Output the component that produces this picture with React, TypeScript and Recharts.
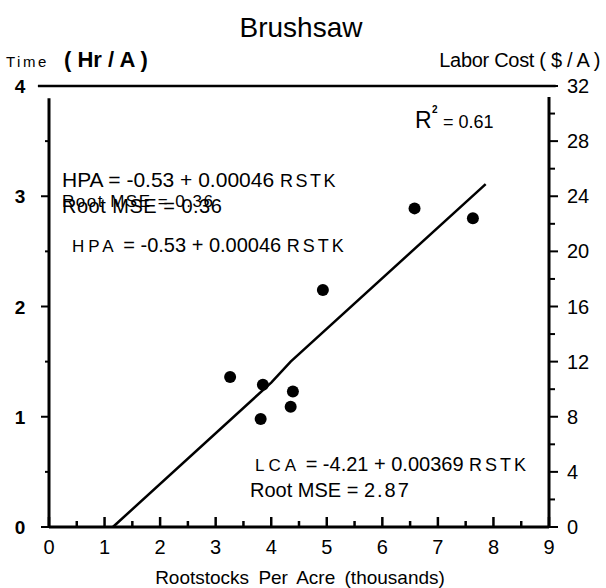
import {
	ComposedChart,
	Line,
	ReferenceLine,
	Scatter,
	XAxis,
	YAxis,
} from "recharts";

// observed stands (rootstocks in thousands per acre, hours per acre)
const rootstocks = [3.26, 3.85, 3.81, 4.39, 4.35, 4.93, 6.58, 7.63];
const hoursPerAcre = [1.36, 1.29, 0.98, 1.23, 1.09, 2.15, 2.89, 2.8];

// fitted line as drawn on the figure
const fitX = [1.15, 4.0, 4.35, 7.86];
const fitY = [0, 1.31, 1.5, 3.11];

// labor cost axis is hours x 8 $/hr
const costPerHour = 8;

const xTicks = [0, 0.5, 1, 1.5, 2, 2.5, 3, 3.5, 4, 4.5, 5, 5.5, 6, 6.5, 7, 7.5, 8, 8.5, 9];
const hourTicks = [0, 0.5, 1, 1.5, 2, 2.5, 3, 3.5, 4];
const costTicks = [0, 2, 4, 6, 8, 10, 12, 14, 16, 18, 20, 22, 24, 26, 28, 30, 32];

const points = rootstocks.map((x, i) => ({ x, y: hoursPerAcre[i] }));
const costPoints = rootstocks.map((x, i) => ({ x, cost: hoursPerAcre[i] * costPerHour }));
const fitLine = fitX.map((x, i) => ({ x, y: fitY[i] }));

const FONT = "'Liberation Sans', Arial, sans-serif";

function XTick({ x, y, payload }: any) {
	const major = Number.isInteger(payload.value);
	return (
		<g>
			<line x1={x} x2={x} y1={y} y2={y - (major ? 10 : 6)} stroke="#000" strokeWidth={2.5} />
			{major && (
				<text x={x} y={y + 27} textAnchor="middle" fontSize={20} fontFamily={FONT} fill="#000">
					{payload.value}
				</text>
			)}
		</g>
	);
}

function LeftTick({ x, y, payload }: any) {
	const major = Number.isInteger(payload.value);
	return (
		<g>
			<line x1={x - (major ? 8 : 4)} x2={x} y1={y} y2={y} stroke="#000" strokeWidth={2} />
			{major && (
				<text x={x - 29} y={y + 7} textAnchor="middle" fontSize={19} fontWeight="bold" fontFamily={FONT} fill="#000">
					{payload.value}
				</text>
			)}
		</g>
	);
}

function RightTick({ x, y, payload }: any) {
	const major = payload.value % 4 === 0;
	return (
		<g>
			<line x1={x} x2={x + (major ? 9 : 6)} y1={y} y2={y} stroke="#000" strokeWidth={2} />
			{major && (
				<text x={x + 18} y={y + 7} textAnchor="start" fontSize={20} fontFamily={FONT} fill="#000">
					{payload.value}
				</text>
			)}
		</g>
	);
}

function Dot({ cx, cy }: any) {
	return <circle cx={cx} cy={cy} r={6} fill="#000" />;
}

function NoDot() {
	return <g />;
}

export default function App() {
	return (
		<div style={{ position: "absolute", left: 0, top: 0, width: 606, height: 588, background: "#fff" }}>
			<ComposedChart
				width={606}
				height={588}
				margin={{ top: 86, right: 7, bottom: 30, left: 0 }}
			>
				<XAxis
					type="number"
					dataKey="x"
					domain={[0, 9]}
					ticks={xTicks}
					interval={0}
					tickSize={0}
					tickMargin={0}
					height={31}
					axisLine={{ stroke: "#000", strokeWidth: 3 }}
					tickLine={false}
					tick={<XTick />}
				/>
				<YAxis
					yAxisId="left"
					type="number"
					domain={[0, 4]}
					ticks={hourTicks}
					interval={0}
					tickSize={0}
					tickMargin={0}
					width={49}
					axisLine={false}
					tickLine={false}
					tick={<LeftTick />}
				/>
				<YAxis
					yAxisId="right"
					orientation="right"
					type="number"
					domain={[0, 32]}
					ticks={costTicks}
					interval={0}
					tickSize={0}
					tickMargin={0}
					width={50}
					axisLine={false}
					tickLine={false}
					tick={<RightTick />}
				/>
				{/* frame: top rule plus side axes that stop short of it */}
				<ReferenceLine
					yAxisId="left"
					segment={[
						{ x: -0.2, y: 4 },
						{ x: 9.12, y: 4 },
					]}
					ifOverflow="visible"
					stroke="#000"
					strokeWidth={2.5}
				/>
				<ReferenceLine
					yAxisId="left"
					segment={[
						{ x: 0, y: 0 },
						{ x: 0, y: 3.89 },
					]}
					ifOverflow="visible"
					stroke="#000"
					strokeWidth={3}
				/>
				<ReferenceLine
					yAxisId="left"
					segment={[
						{ x: 9, y: 0 },
						{ x: 9, y: 3.9 },
					]}
					ifOverflow="visible"
					stroke="#000"
					strokeWidth={3}
				/>
				<Line
					yAxisId="left"
					data={fitLine}
					dataKey="y"
					type="linear"
					stroke="#000"
					strokeWidth={2.5}
					dot={false}
					activeDot={false}
					isAnimationActive={false}
				/>
				{/* same stands in $/A, only to bind the cost axis */}
				<Scatter
					yAxisId="right"
					data={costPoints}
					dataKey="cost"
					shape={<NoDot />}
					isAnimationActive={false}
				/>
				<Scatter
					yAxisId="left"
					data={points}
					dataKey="y"
					fill="#000"
					shape={<Dot />}
					isAnimationActive={false}
				/>
			</ComposedChart>
			<svg
				width={606}
				height={588}
				style={{ position: "absolute", left: 0, top: 0, pointerEvents: "none" }}
				fontFamily={FONT}
			>
				<text x={301} y={37} textAnchor="middle" fontSize={28}>Brushsaw</text>
				<text x={6} y={67} fontSize={15} letterSpacing={2.5}>Time</text>
				<text x={64} y={67} fontSize={22} fontWeight="bold">( Hr / A )</text>
				<text x={600} y={67} textAnchor="end" fontSize={20} letterSpacing={-0.3}>Labor Cost ( $ / A )</text>
				<text x={415} y={128} fontSize={23}>R</text>
				<text x={432} y={113} fontSize={10} fontWeight="bold">2</text>
				<text x={443} y={128} fontSize={18}>= 0.61</text>
				<text x={62} y={187} fontSize={21}>
					HPA = -0.53 + 0.00046 <tspan letterSpacing={2.5} fontSize={18}>RSTK</tspan>
				</text>
				<text x={62} y={207} fontSize={17} letterSpacing={1.5}>Root MSE = 0.36</text>
				<text x={62} y={213} fontSize={20} letterSpacing={0.5}>Root MSE = 0.36</text>
				<text x={72} y={252} fontSize={20}>
					<tspan fontSize={17} letterSpacing={4}>HPA</tspan> = -0.53 + 0.00046 <tspan letterSpacing={3} fontSize={18}>RSTK</tspan>
				</text>
				<text x={255} y={471} fontSize={20}>
					<tspan fontSize={17} letterSpacing={4}>LCA</tspan> = -4.21 + 0.00369 <tspan letterSpacing={3} fontSize={18}>RSTK</tspan>
				</text>
				<text x={250} y={497} fontSize={20}>
					Root MSE = <tspan letterSpacing={2}>2.87</tspan>
				</text>
				<text x={300} y={584} textAnchor="middle" fontSize={19} wordSpacing={4}>Rootstocks Per Acre (thousands)</text>
			</svg>
		</div>
	);
}
